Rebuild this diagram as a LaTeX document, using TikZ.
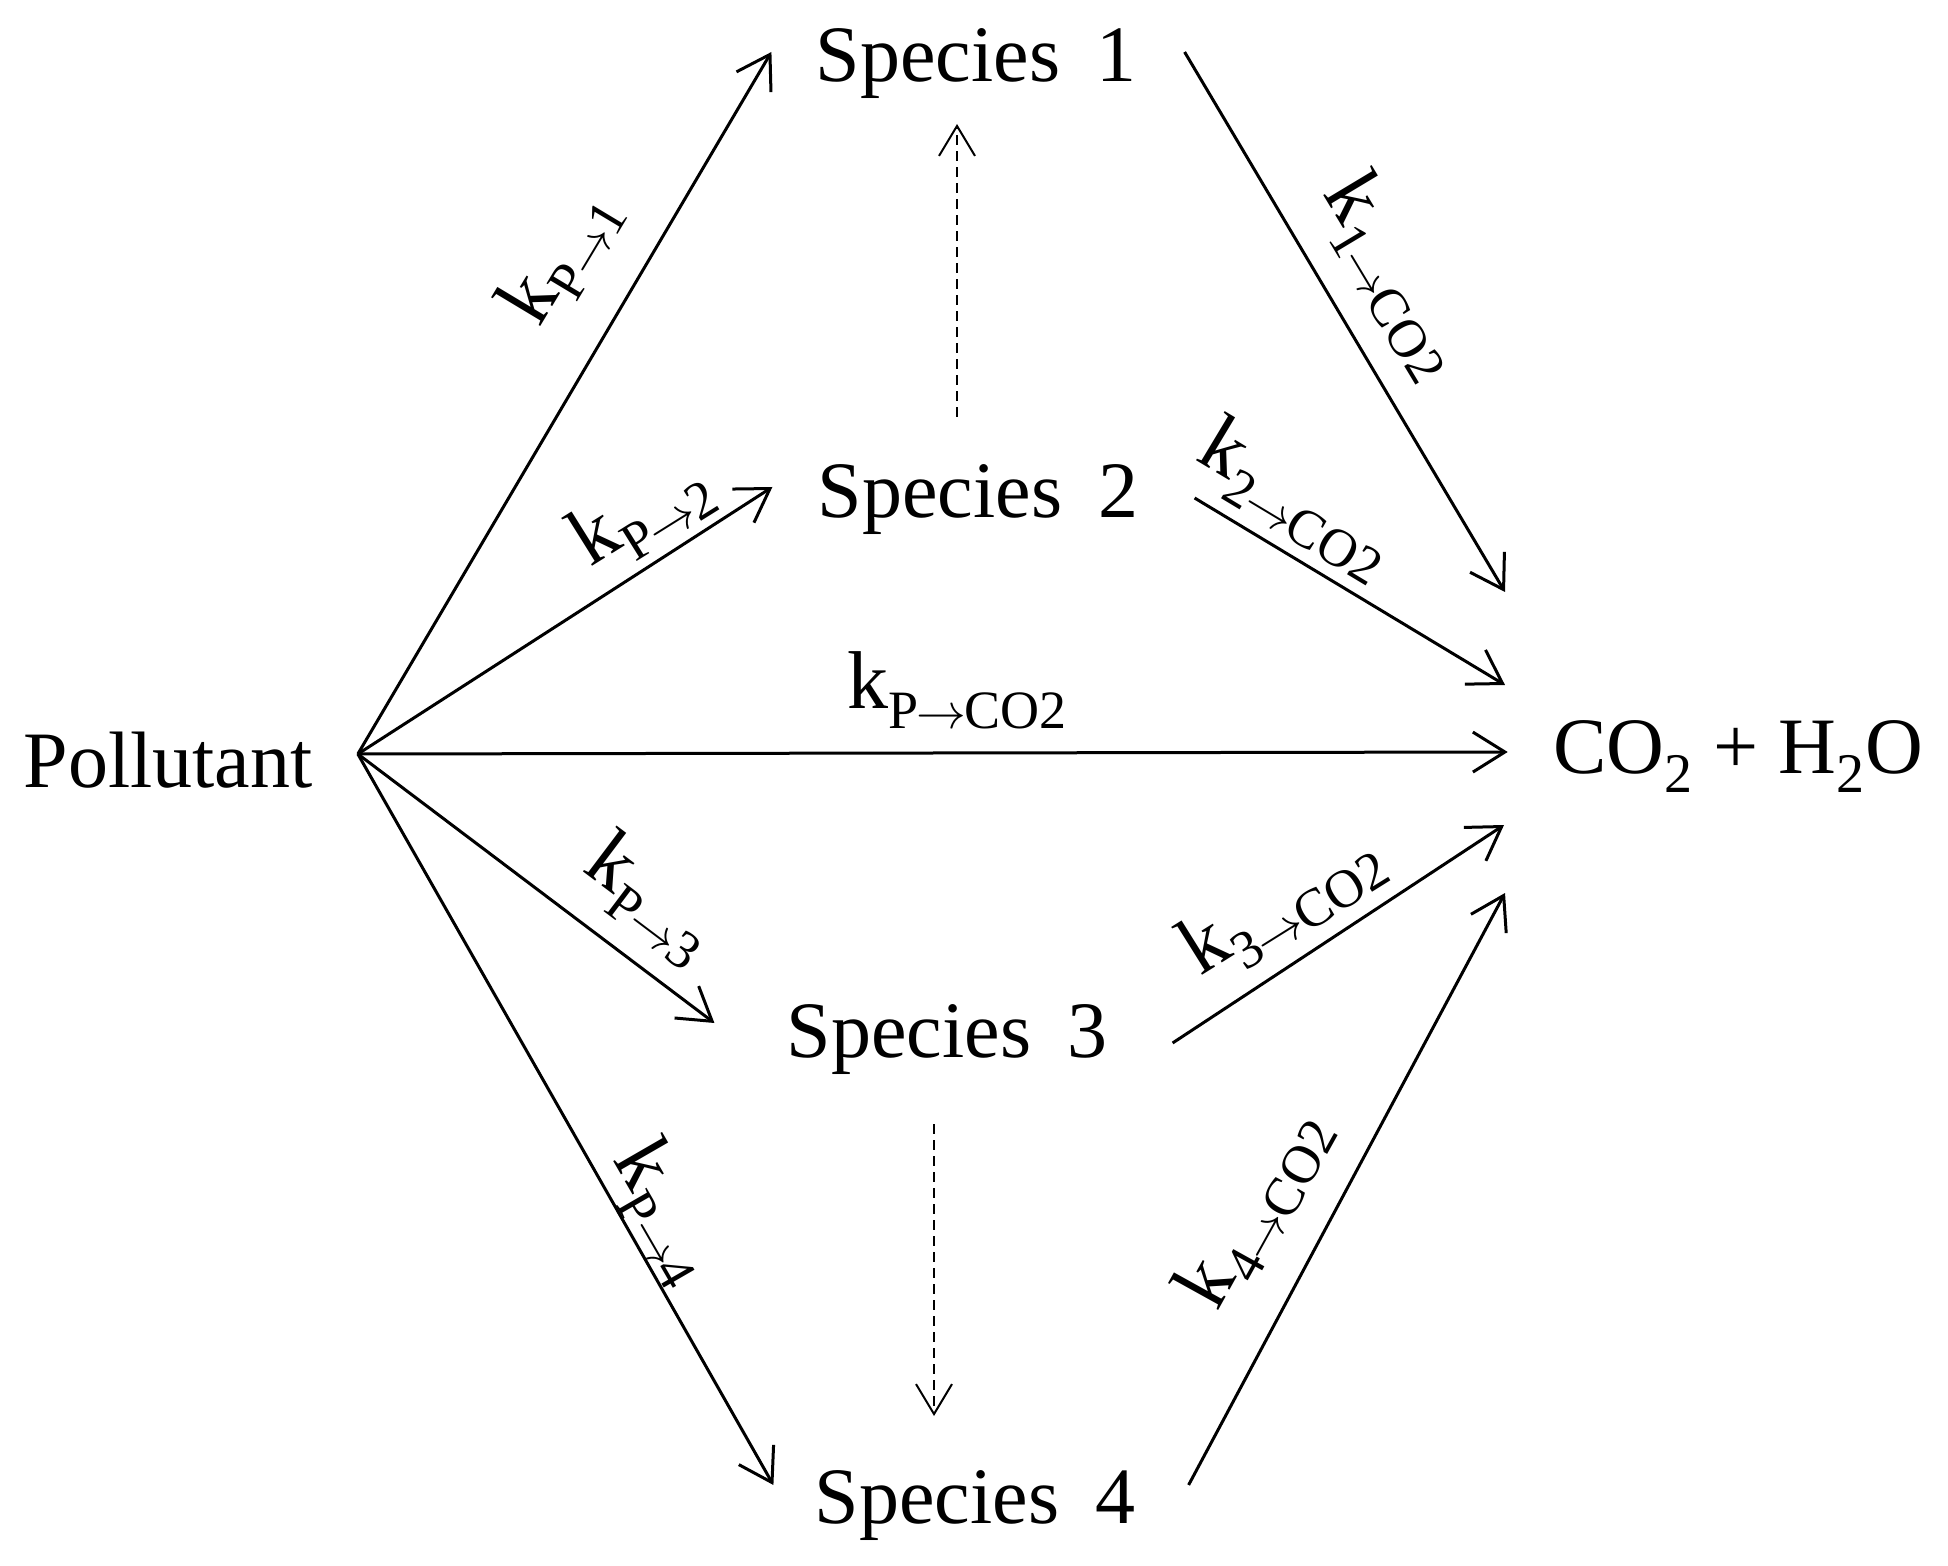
\documentclass[tikz,border=0pt]{standalone}
\usepackage{fontspec}
\setmainfont{Liberation Serif}
\usetikzlibrary{arrows.meta,calc}
\newcommand\rate[1]{k\raisebox{-0.24em}{\fontsize{27}{27}\selectfont #1}}
\newcommand\ar{\kern-0.04em$\rightarrow$\kern-0.04em}
\begin{document}
\begin{tikzpicture}[x=0.5pt,y=-0.5pt,
  lbl/.style={inner sep=0pt,font=\fontsize{41}{49}\selectfont},
  sp/.style={inner sep=0pt,anchor=base,font=\fontsize{40}{48}\selectfont},
  conn/.style={line width=1.5pt,-{Straight Barb[length=16pt,width=20pt,line width=1.5pt]}},
  dconn/.style={line width=1pt,dash pattern=on 5pt off 3pt,-{Straight Barb[length=15pt,width=18pt,line width=1pt]}}]
\useasboundingbox (0,0) rectangle (1948,1566);
% nodes
\node[sp] (pol) at (168,787) {Pollutant};
\node[sp] (s1) at (976,82) {Species\hspace{0.45em}1};
\node[sp] (s2) at (978,518) {Species\hspace{0.45em}2};
\node[sp] (s3) at (947,1057) {Species\hspace{0.45em}3};
\node[sp] (s4) at (975,1523) {Species\hspace{0.45em}4};
\node[sp] (co) at (1738,773) {CO\textsubscript{2} + H\textsubscript{2}O};
% connection points
\coordinate (hub) at ($(pol.base east)+(45,-33)$);
\coordinate (s1in) at ($(s1.base west)+(-44,-30)$);
\coordinate (s1out) at ($(s1.base east)+(48,-30)$);
\coordinate (s1dn) at ($(s1.base)+(-19,42)$);
\coordinate (s2in) at ($(s2.base west)+(-45,-31)$);
\coordinate (s2out) at ($(s2.base east)+(56,-20)$);
\coordinate (s2up) at ($(s2.base)+(-21,-101)$);
\coordinate (s3in) at ($(s3.base west)+(-72,-34)$);
\coordinate (s3out) at ($(s3.base east)+(65,-14)$);
\coordinate (s3dn) at ($(s3.base)+(-13,67)$);
\coordinate (s4in) at ($(s4.base west)+(-41,-38)$);
\coordinate (s4out) at ($(s4.base east)+(53,-38)$);
\coordinate (s4up) at ($(s4.base)+(-41,-107)$);
\coordinate (c1) at (1505,592);
\coordinate (c2) at (1505,685);
\coordinate (cp) at ($(co.base west)+(-45,-21)$);
\coordinate (c3) at (1504,825);
\coordinate (c4) at (1505,893);
% connectors
\draw[conn] (hub) -- (s1in);
\draw[conn] (hub) -- (s2in);
\draw[conn] (hub) -- (cp);
\draw[conn] (hub) -- (s3in);
\draw[conn] (hub) -- (s4in);
\draw[conn] (s1out) -- (c1);
\draw[conn] (s2out) -- (c2);
\draw[conn] (s3out) -- (c3);
\draw[conn] (s4out) -- (c4);
\draw[dconn] (s2up) -- (s1dn);
\draw[dconn] (s3dn) -- (s4up);
% rate labels
\node[lbl,rotate=59] (l1) at (560,257) {\rate{P\ar1}};
\node[lbl,rotate=32] (l2) at (641,514) {\rate{P\ar2}};
\node[lbl] (lp) at (957,690) {\rate{P\ar CO2}};
\node[lbl,rotate=-37] (l3) at (650,899) {\rate{P\ar3}};
\node[lbl,rotate=-60] (l4) at (664,1212) {\rate{P\ar4}};
\node[lbl,rotate=-59] (m1) at (1394,276) {\rate{1\ar CO2}};
\node[lbl,rotate=-31] (m2) at (1296,499) {\rate{2\ar CO2}};
\node[lbl,rotate=32] (m3) at (1282,904) {\rate{3\ar CO2}};
\node[lbl,rotate=61] (m4) at (1254,1209) {\rate{4\ar CO2}};
\end{tikzpicture}
\end{document}
